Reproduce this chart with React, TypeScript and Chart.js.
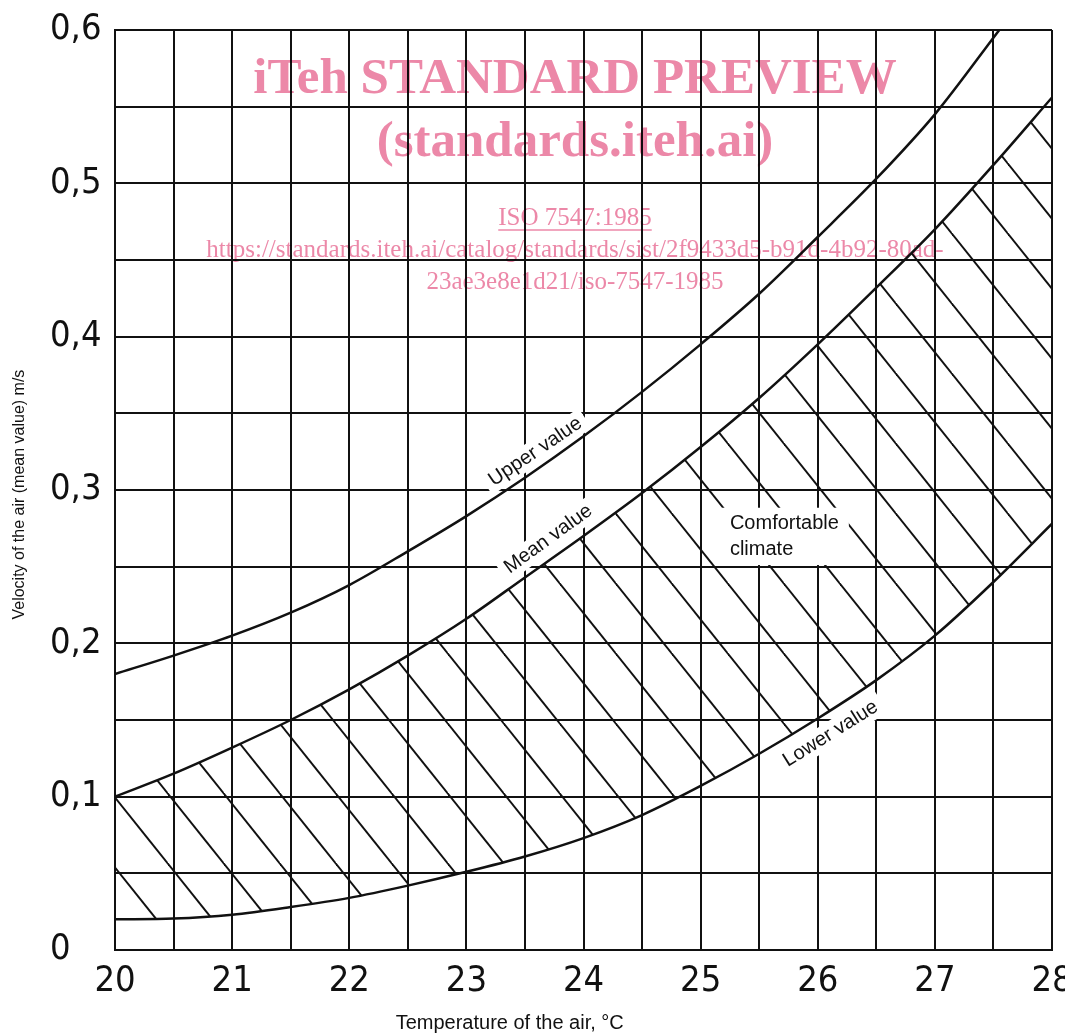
import React, { useEffect, useRef } from "react";
import { Chart, registerables } from "chart.js";

Chart.register(...registerables);

// Temperature of the air, °C
const temperatures = [20, 20.5, 21, 21.5, 22, 22.5, 23, 23.5, 24, 24.5, 25, 25.5, 26, 26.5, 27, 27.5, 28];
// Upper value curve (ends where it meets 0,6 m/s)
const upperTemperatures = [20, 20.5, 21, 21.5, 22, 22.5, 23, 23.5, 24, 24.5, 25, 25.5, 26, 26.5, 27, 27.55];
const upperValues = [0.18, 0.192, 0.205, 0.22, 0.238, 0.26, 0.283, 0.308, 0.335, 0.364, 0.395, 0.428, 0.465, 0.503, 0.545, 0.6];
// Mean value curve
const meanValues = [0.1, 0.115, 0.132, 0.15, 0.17, 0.192, 0.216, 0.243, 0.27, 0.298, 0.328, 0.36, 0.395, 0.432, 0.47, 0.512, 0.556];
// Lower value curve
const lowerValues = [0.02, 0.0205, 0.023, 0.028, 0.034, 0.042, 0.051, 0.061, 0.073, 0.088, 0.107, 0.128, 0.151, 0.176, 0.205, 0.24, 0.278];

const xTickLabels = ["20", "21", "22", "23", "24", "25", "26", "27", "28"];
const yTickLabels = ["0", "0,1", "0,2", "0,3", "0,4", "0,5", "0,6"];

const INK = "#111111";
const PINK = "#ec88a8";
const TICK_FONT = "'Liberation Sans Narrow', 'DejaVu Sans Condensed', 'Liberation Sans', sans-serif";
const TEXT_FONT = "'Liberation Sans', Arial, sans-serif";
const SERIF = "'Liberation Serif', 'Times New Roman', serif";
const LABEL_FONT = `20px ${TEXT_FONT}`;

function makeHatch(): CanvasPattern | string {
  const w = 56;
  const h = 70;
  const c = document.createElement("canvas");
  c.width = w;
  c.height = h;
  const g = c.getContext("2d");
  if (!g) return "rgba(0,0,0,0)";
  g.strokeStyle = INK;
  g.lineWidth = 2;
  const phase = 37;
  for (const k of [-2, -1, 0, 1]) {
    const x0 = phase + k * w;
    g.beginPath();
    g.moveTo(x0 - w, -h);
    g.lineTo(x0 + 2 * w, 2 * h);
    g.stroke();
  }
  return g.createPattern(c, "repeat") || "rgba(0,0,0,0)";
}

type CurveLabel = { text: string; t: number; v: number; angle: number };
const curveLabels: CurveLabel[] = [
  { text: "Upper value", t: 23.59, v: 0.325, angle: -34 },
  { text: "Mean value", t: 23.7, v: 0.268, angle: -36 },
  { text: "Lower value", t: 26.11, v: 0.141, angle: -32 },
];

function withLabel(ctx: CanvasRenderingContext2D, chart: any, l: CurveLabel, fn: (w: number) => void) {
  const x = chart.scales.x;
  const y = chart.scales.y;
  ctx.save();
  ctx.translate(x.getPixelForValue(l.t), y.getPixelForValue(l.v));
  ctx.rotate((l.angle * Math.PI) / 180);
  ctx.font = LABEL_FONT;
  fn(ctx.measureText(l.text).width);
  ctx.restore();
}

const annotations = {
  id: "annotations",
  beforeDatasetsDraw(chart: any) {
    const ctx: CanvasRenderingContext2D = chart.ctx;
    for (const l of curveLabels) {
      withLabel(ctx, chart, l, (w) => {
        ctx.fillStyle = "#ffffff";
        ctx.fillRect(-w / 2 - 6, -12, w + 12, 24);
      });
    }
  },
  afterDatasetsDraw(chart: any) {
    const ctx: CanvasRenderingContext2D = chart.ctx;
    const x = chart.scales.x;
    const y = chart.scales.y;
    for (const l of curveLabels) {
      withLabel(ctx, chart, l, () => {
        ctx.fillStyle = INK;
        ctx.textAlign = "center";
        ctx.textBaseline = "middle";
        ctx.fillText(l.text, 0, 0);
      });
    }
    // Comfortable climate block
    const cx = x.getPixelForValue(25.25);
    const cy1 = y.getPixelForValue(0.278);
    const cy2 = y.getPixelForValue(0.2615);
    ctx.save();
    ctx.font = LABEL_FONT;
    const w = ctx.measureText("Comfortable").width;
    ctx.fillStyle = "#ffffff";
    ctx.fillRect(cx - 8, cy1 - 16, w + 18, cy2 - cy1 + 32);
    ctx.fillStyle = INK;
    ctx.textAlign = "left";
    ctx.textBaseline = "middle";
    ctx.fillText("Comfortable", cx, cy1);
    ctx.fillText("climate", cx, cy2);
    ctx.restore();

    // axis titles
    ctx.save();
    ctx.fillStyle = INK;
    ctx.textAlign = "center";
    ctx.textBaseline = "middle";
    ctx.font = `20px ${TEXT_FONT}`;
    ctx.fillText("Temperature of the air, °C", x.getPixelForValue(23.37), chart.chartArea.bottom + 73);
    ctx.translate(20, y.getPixelForValue(0.297));
    ctx.rotate(-Math.PI / 2);
    ctx.font = `16px ${TEXT_FONT}`;
    ctx.fillText("Velocity of the air (mean value) m/s", 0, 0);
    ctx.restore();
  },
  afterDraw(chart: any) {
    const ctx: CanvasRenderingContext2D = chart.ctx;
    ctx.save();
    ctx.globalCompositeOperation = "multiply";
    ctx.fillStyle = PINK;
    ctx.strokeStyle = PINK;
    ctx.textAlign = "center";
    ctx.textBaseline = "middle";
    const cx = 575;
    ctx.font = `bold 51px ${SERIF}`;
    ctx.fillText("iTeh STANDARD PREVIEW", cx, 80);
    ctx.fillText("(standards.iteh.ai)", cx, 143);
    ctx.font = `25px ${SERIF}`;
    ctx.fillText("ISO 7547:1985", cx, 218);
    const iw = ctx.measureText("ISO 7547:1985").width;
    ctx.lineWidth = 1.5;
    ctx.beginPath();
    ctx.moveTo(cx - iw / 2, 230);
    ctx.lineTo(cx + iw / 2, 230);
    ctx.stroke();
    ctx.fillText("https://standards.iteh.ai/catalog/standards/sist/2f9433d5-b91d-4b92-80ad-", cx, 250);
    ctx.fillText("23ae3e8e1d21/iso-7547-1985", cx, 282);
    ctx.restore();
  },
};

export default function App() {
  const ref = useRef<HTMLCanvasElement | null>(null);

  useEffect(() => {
    if (!ref.current) return;
    const hatch = makeHatch();
    const common = {
      borderColor: INK,
      borderWidth: 2.5,
      pointRadius: 0,
      cubicInterpolationMode: "monotone" as const,
    };
    const chart = new Chart(ref.current, {
      type: "line",
      data: {
        datasets: [
          {
            ...common,
            label: "Upper value",
            data: upperTemperatures.map((t, i) => ({ x: t, y: upperValues[i] })),
            fill: false,
          },
          {
            ...common,
            label: "Mean value",
            data: temperatures.map((t, i) => ({ x: t, y: meanValues[i] })),
            fill: "+1",
            backgroundColor: hatch as any,
          },
          {
            ...common,
            label: "Lower value",
            data: temperatures.map((t, i) => ({ x: t, y: lowerValues[i] })),
            fill: false,
          },
        ],
      },
      options: {
        responsive: false,
        animation: false,
        devicePixelRatio: 1,
        layout: { padding: { left: 50, top: 30, right: 13, bottom: 0 } },
        plugins: { legend: { display: false }, tooltip: { enabled: false }, title: { display: false } },
        scales: {
          x: {
            type: "linear",
            min: 20,
            max: 28,
            afterBuildTicks: (s: any) => {
              const t = [];
              for (let i = 0; i <= 16; i++) t.push({ value: 20 + i * 0.5 });
              s.ticks = t;
            },
            afterFit: (s: any) => {
              s.height = 86;
              s.paddingLeft = 0;
              s.paddingRight = 0;
            },
            grid: { color: INK, lineWidth: 2, drawTicks: false },
            border: { display: true, color: INK, width: 2 },
            ticks: {
              autoSkip: false,
              maxRotation: 0,
              padding: 10,
              color: INK,
              font: { family: TICK_FONT, size: 36 },
              callback: (v: any) => {
                const n = Number(v);
                const idx = xTickLabels.indexOf(String(Math.round(n)));
                return Math.abs(n - Math.round(n)) < 1e-6 && idx >= 0 ? xTickLabels[idx] : "";
              },
            },
          },
          y: {
            type: "linear",
            min: 0,
            max: 0.6,
            afterBuildTicks: (s: any) => {
              const t = [];
              for (let i = 0; i <= 12; i++) t.push({ value: i * 0.05 });
              s.ticks = t;
            },
            afterFit: (s: any) => {
              s.width = 65;
              s.paddingTop = 0;
              s.paddingBottom = 0;
            },
            grid: { color: INK, lineWidth: 2, drawTicks: false },
            border: { display: true, color: INK, width: 2 },
            ticks: {
              autoSkip: false,
              crossAlign: "far",
              padding: 10,
              color: INK,
              font: { family: TICK_FONT, size: 36 },
              callback: (v: any) => {
                const n = Number(v) * 10;
                const r = Math.round(n);
                return Math.abs(n - r) < 1e-6 ? yTickLabels[r] ?? "" : "";
              },
            },
          },
        },
      },
      plugins: [annotations],
    });
    return () => chart.destroy();
  }, []);

  return (
    <div style={{ position: "absolute", left: 0, top: 0, width: 1065, height: 1036, background: "#fff" }}>
      <canvas ref={ref} width={1065} height={1036} />
    </div>
  );
}
